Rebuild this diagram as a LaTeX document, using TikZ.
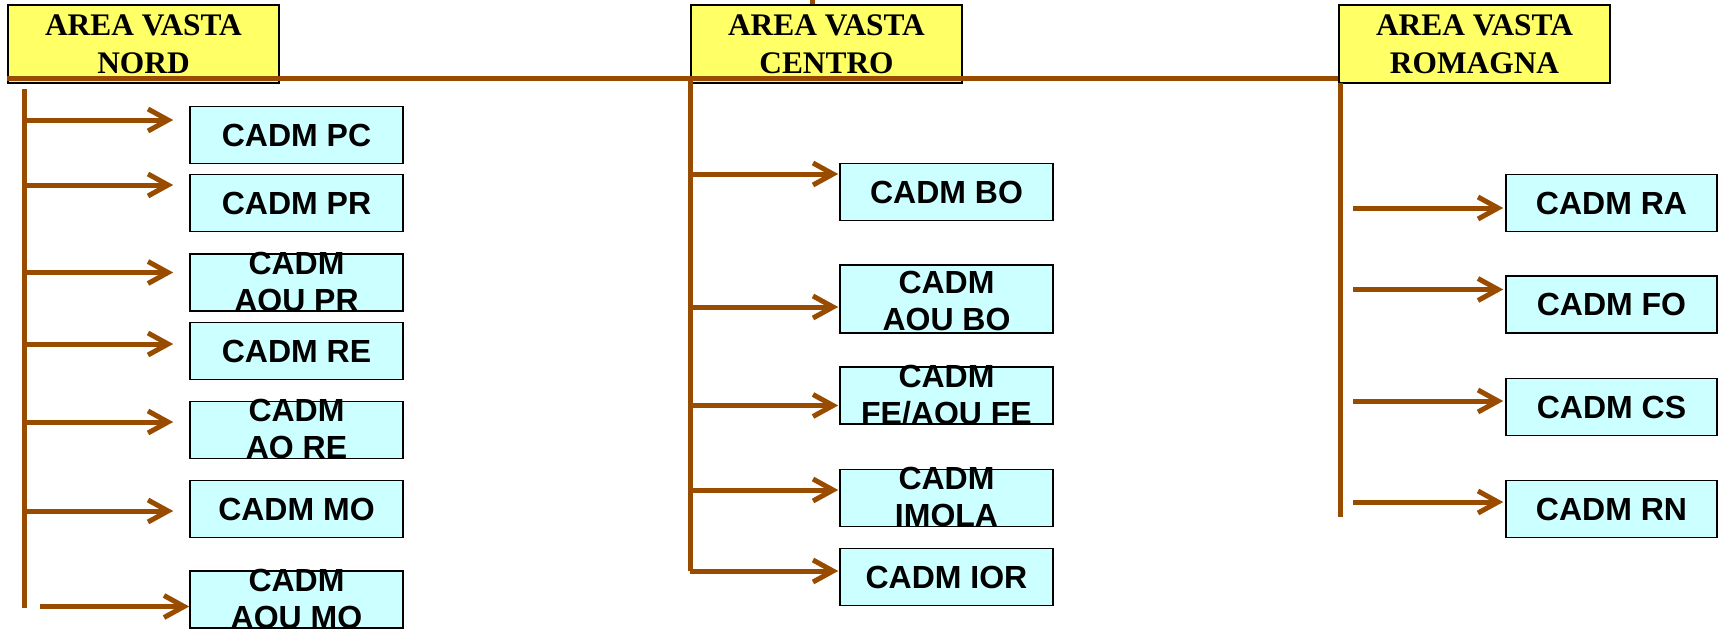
\documentclass[tikz,border=0pt]{standalone}
\usepackage{fontspec}
\setmainfont{Liberation Serif}
\setsansfont{Liberation Sans}
\usetikzlibrary{arrows.meta,calc}
\definecolor{marrone}{RGB}{153,76,0}
\definecolor{giallo}{RGB}{255,255,102}
\definecolor{azzurro}{RGB}{204,255,255}

\begin{document}
\begin{tikzpicture}[x=0.5pt, y=-0.5pt,
  area/.style={draw, line width=0.8pt, fill=giallo, minimum width=135.5pt, minimum height=39pt,
    inner sep=0pt, align=center, font=\rmfamily\bfseries\fontsize{15.7}{19}\selectfont},
  cadm/.style={draw, line width=0.8pt, fill=azzurro, minimum width=106.5pt, minimum height=28.5pt,
    inner sep=0pt, align=center, font=\sffamily\bfseries\fontsize{16}{18.5}\selectfont},
  due/.style={text height=28.5pt, text depth=0pt},
  ramo/.style={marrone, line width=2.5pt},
  freccia/.style={marrone, line width=2.5pt, -{Straight Barb[length=10pt,width=11pt]}}]

\useasboundingbox (0,0) rectangle (1725,632);

% aree vaste
\node[area] (nord) at (143.5,44) {AREA VASTA\\NORD};
\node[area] (centro) at (826.5,44) {AREA VASTA\\CENTRO};
\node[area] (romagna) at (1474.5,44) {AREA VASTA\\ROMAGNA};

\coordinate (su) at (812,-10);
\draw[ramo] (su) -- (su |- centro.north);
\draw[ramo] ([yshift=2.5pt]nord.south west) -- ([yshift=2.5pt]romagna.south west);

% nord
\node[cadm] (pc) at (296.5,135) {CADM PC};
\node[cadm] (pr) at (296.5,203) {CADM PR};
\node[cadm,due] (aoupr) at (296.5,282.5) {CADM\\AOU PR};
\node[cadm] (re) at (296.5,351) {CADM RE};
\node[cadm,due] (aore) at (296.5,430) {CADM\\AO RE};
\node[cadm] (mo) at (296.5,509) {CADM MO};
\node[cadm,due] (aoumo) at (296.5,599.5) {CADM\\AOU MO};

\coordinate (tn) at (24,89);
\coordinate (tnb) at (24,608);
\draw[ramo] (tn) -- (tnb);
\foreach \b/\dy in {pc/-15,pr/-18,aoupr/-10,re/-7,aore/-8,mo/2}{
  \coordinate (tip) at ($(\b.west)+(-16,\dy)$);
  \draw[freccia] (tn |- tip) -- (tip);
}
\coordinate (tip) at ($(aoumo.west)+(0,7)$);
\draw[freccia] ($(tip)+(-149,0)$) -- (tip);

% centro
\node[cadm] (bo) at (946.5,192) {CADM BO};
\node[cadm,minimum height=34pt,text height=32.5pt,text depth=1.5pt] (aoubo) at (946.5,299) {CADM\\AOU BO};
\node[cadm,due] (fe) at (946.5,395.5) {CADM\\FE/AOU FE};
\node[cadm,due] (imola) at (946.5,498) {CADM\\IMOLA};
\node[cadm] (ior) at (946.5,577) {CADM IOR};

\coordinate (tc) at (690,79);
\coordinate (tcb) at (690,571);
\draw[ramo] (tc) -- (tcb);
\foreach \b/\dy in {bo/-18,aoubo/8,fe/10,imola/-8,ior/-6}{
  \coordinate (tip) at ($(\b.west)+(-1,\dy)$);
  \draw[freccia] (tc |- tip) -- (tip);
}

% romagna
\node[cadm,minimum width=105.5pt] (ra) at (1611.5,203) {CADM RA};
\node[cadm,minimum width=105.5pt] (fo) at (1611.5,304.5) {CADM FO};
\node[cadm,minimum width=105.5pt] (cs) at (1611.5,407) {CADM CS};
\node[cadm,minimum width=105.5pt] (rn) at (1611.5,509) {CADM RN};

\coordinate (tr) at (1340,83);
\coordinate (trb) at (1340,517);
\draw[ramo] (tr) -- (trb);
\foreach \b/\dy in {ra/5,fo/-15,cs/-6,rn/-7}{
  \coordinate (tip) at ($(\b.west)+(-2,\dy)$);
  \draw[freccia] ($(tip)+(-150,0)$) -- (tip);
}

\end{tikzpicture}
\end{document}
